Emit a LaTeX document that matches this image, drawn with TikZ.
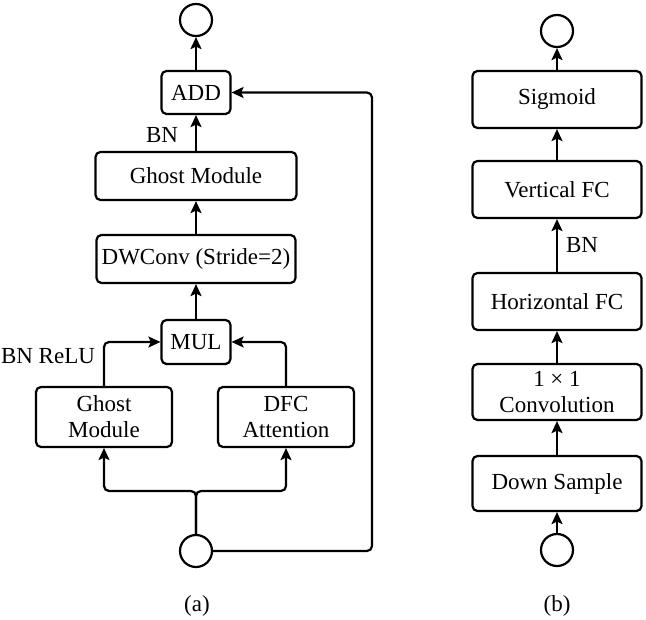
\documentclass[tikz,border=0pt]{standalone}
\usepackage{fontspec}
\setmainfont{Liberation Serif}
\usetikzlibrary{arrows.meta}

\begin{document}
\begin{tikzpicture}[x=1pt, y=-1pt, line width=2.2pt,
  font=\fontsize{23}{26}\selectfont,
  blk/.style={draw, rounded corners=5pt, inner sep=0pt, align=center},
  io/.style={draw, circle, minimum size=32pt, inner sep=0pt},
  arr/.style={-{Stealth[length=12pt, width=11pt, inset=2.5pt]}},
  lbl/.style={inner sep=0pt}]
  \useasboundingbox (0,0) rectangle (646,620);
  % (a): ghost bottleneck
  \node[io] (topA) at (196,20) {};
  \node[blk, minimum width=69pt, minimum height=43pt] (add) at (196,92.5) {ADD};
  \node[blk, minimum width=201pt, minimum height=48pt] (ghostA) at (196,176) {Ghost Module};
  \node[blk, minimum width=199pt, minimum height=48pt] (dwconv) at (196,259) {DWConv (Stride=2)};
  \node[blk, minimum width=69pt, minimum height=44pt] (mul) at (196,342) {MUL};
  \node[blk, minimum width=136pt, minimum height=60pt] (ghostB) at (104,417) {Ghost\\Module};
  \node[blk, minimum width=136pt, minimum height=60pt] (dfc) at (286,417) {DFC\\Attention};
  \node[io] (botA) at (196,551) {};
  \coordinate (fork) at (196,491);
  \coordinate (skip) at (372,92.5);
  \node[lbl] (bnA) at (162,135) {BN};
  \node[lbl] (bnrelu) at (48,356) {BN ReLU};
  \node[lbl] (capA) at (197,606) {(a)};
  \draw[arr] (add) -- (topA);
  \draw[arr] (ghostA) -- (add);
  \draw[arr] (dwconv) -- (ghostA);
  \draw[arr] (mul) -- (dwconv);
  \draw[arr, rounded corners=5pt] (ghostB.north) |- (mul.west);
  \draw[arr, rounded corners=5pt] (dfc.north) |- (mul.east);
  \draw[arr, rounded corners=5pt] (botA.north) -- (fork) -| (ghostB.south);
  \draw[arr, rounded corners=5pt] (botA.north) -- (fork) -| (dfc.south);
  \draw[arr, rounded corners=5pt] (botA.east) -| (skip) -- (add.east);
  % (b): DFC attention
  \node[io] (topB) at (557,31) {};
  \node[blk, minimum width=169pt, minimum height=57pt] (sig) at (557,99.5) {Sigmoid};
  \node[blk, minimum width=169pt, minimum height=57pt] (vert) at (557,189.5) {Vertical FC};
  \node[blk, minimum width=169pt, minimum height=57pt] (horiz) at (557,301.5) {Horizontal FC};
  \node[blk, minimum width=169pt, minimum height=56pt] (conv) at (557,392) {1 × 1\\Convolution};
  \node[blk, minimum width=169pt, minimum height=55pt] (down) at (557,483.5) {Down Sample};
  \node[io] (botB) at (557,550) {};
  \node[lbl] (bnB) at (582,245) {BN};
  \node[lbl] (capB) at (557,606) {(b)};
  \draw[arr] (botB) -- (down);
  \draw[arr] (down) -- (conv);
  \draw[arr] (conv) -- (horiz);
  \draw[arr] (horiz) -- (vert);
  \draw[arr] (vert) -- (sig);
  \draw[arr] (sig) -- (topB);
\end{tikzpicture}
\end{document}
